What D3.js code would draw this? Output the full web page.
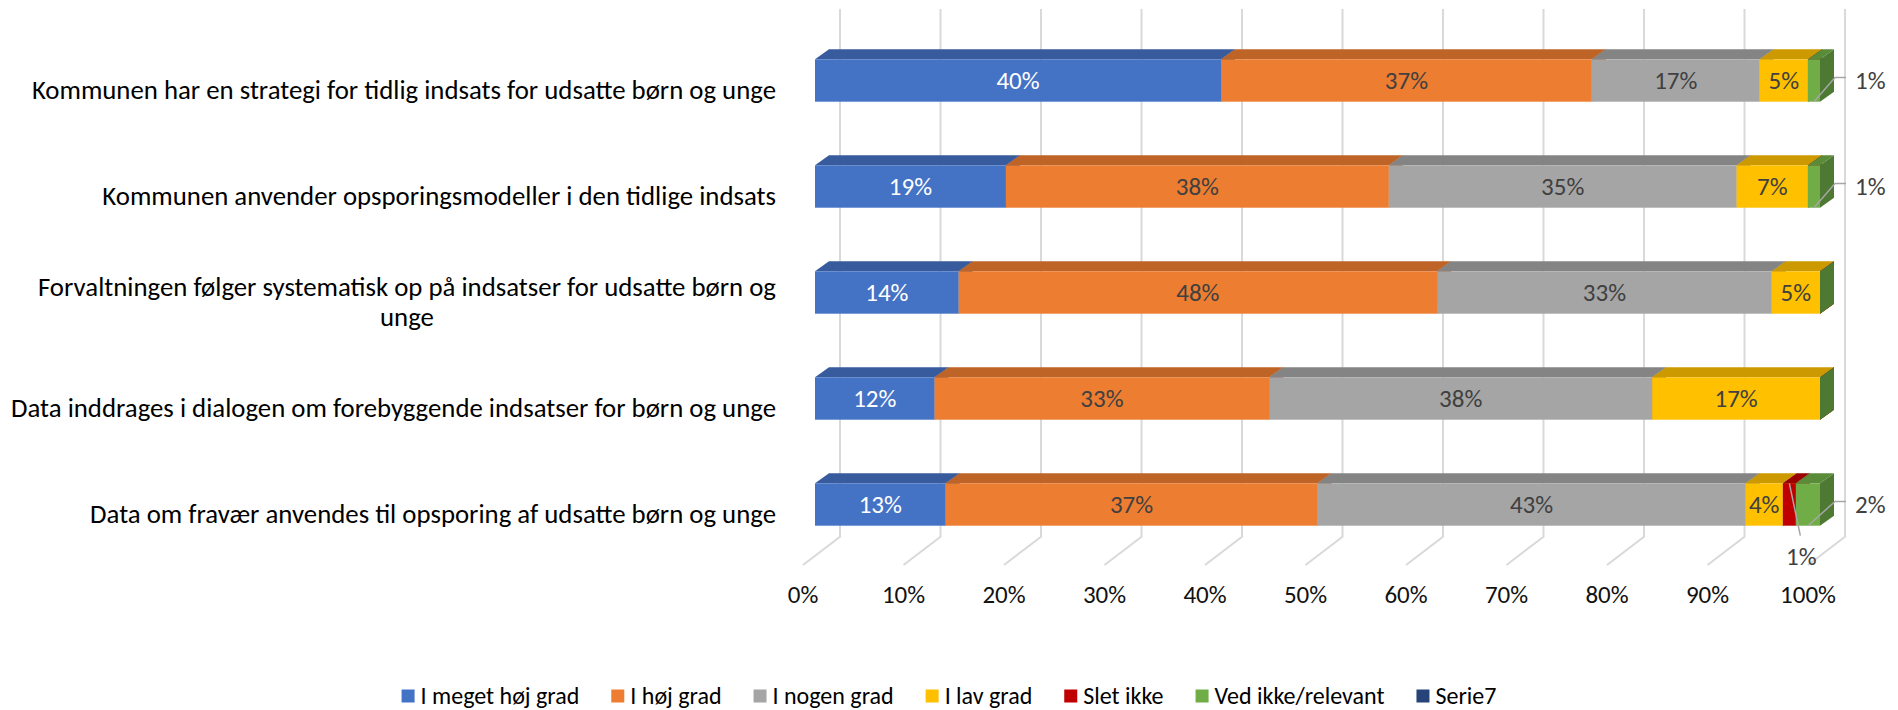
<!DOCTYPE html>
<html>
<head>
<meta charset="utf-8">
<script src="https://cdn.jsdelivr.net/npm/d3@7/dist/d3.min.js"></script>
<style>
  html, body { margin: 0; padding: 0; background: #fff; }
  svg { display: block; font-family: Carlito, Calibri, Lato, sans-serif; }
</style>
</head>
<body>
<svg id="chart" width="1898" height="710"></svg>
<script>
// ---------- data ----------
const categories = [
  "Kommunen har en strategi for tidlig indsats for udsatte børn og unge",
  "Kommunen anvender opsporingsmodeller i den tidlige indsats",
  "Forvaltningen følger systematisk op på indsatser for udsatte børn og\nunge",
  "Data inddrages i dialogen om forebyggende indsatser for børn og unge",
  "Data om fravær anvendes til opsporing af udsatte børn og unge"
];
const seriesNames = ["I meget høj grad", "I høj grad", "I nogen grad", "I lav grad", "Slet ikke", "Ved ikke/relevant", "Serie7"];
const seriesColors = ["#4472C4", "#ED7D31", "#A5A5A5", "#FFC000", "#C00000", "#70AD47", "#264478"];
const iMegetHoejGrad = [40.4, 19.0, 14.3, 11.9, 13.0];
const iHoejGrad      = [36.9, 38.1, 47.6, 33.3, 37.0];
const iNogenGrad     = [16.7, 34.6, 33.3, 38.1, 42.6];
const iLavGrad       = [4.8, 7.1, 4.8, 16.7, 3.7];
const sletIkke       = [0, 0, 0, 0, 1.3];
const vedIkke        = [1.2, 1.2, 0, 0, 2.4];
const serie7         = [null, null, null, null, null];
const xTicks = [0, 10, 20, 30, 40, 50, 60, 70, 80, 90, 100];

const seriesValues = [iMegetHoejGrad, iHoejGrad, iNogenGrad, iLavGrad, sletIkke, vedIkke, serie7];

// ---------- layout ----------
const svg = d3.select("#chart");
const FONT_CAT = 26.8, FONT_TICK = 25, FONT_LAB = 25, FONT_LEG = 24;
const x = d3.scaleLinear().domain([0, 100]).range([815, 1820]);   // bar front plane
const y = d3.scaleBand().domain(categories).range([27.5, 557.5]).paddingInner(0.6).paddingOuter(0.3);
const barDx = 14, barDy = 10;          // bar depth
const floorFrontDx = -12, backDx = 25; // floor front / back wall relative to bar front
const wallTop = 9, wallBottom = 536.7, floorFront = 565;
const labelShift = 9;                  // category labels sit on front floor plane

// back wall gridlines + floor lines
const grid = svg.append("g").attr("stroke", "#d9d9d9").attr("stroke-width", 2).attr("fill", "none");
xTicks.forEach(t => {
  const xb = x(t) + backDx, xf = x(t) + floorFrontDx;
  grid.append("path").attr("d", `M${xb},${wallTop}L${xb},${wallBottom}L${xf},${floorFront}`);
});

// tick labels
svg.append("g").selectAll("text").data(xTicks).join("text")
  .attr("x", d => x(d) + floorFrontDx)
  .attr("y", 603)
  .attr("text-anchor", "middle")
  .attr("font-size", FONT_TICK)
  .attr("fill", "#111")
  .text(d => d + "%");

// category labels
const catG = svg.append("g");
categories.forEach(c => {
  const lines = c.split("\n");
  const cy = y(c) + y.bandwidth() / 2 + labelShift;
  const lh = 30;
  const t = catG.append("text").attr("font-size", FONT_CAT).attr("fill", "#000");
  lines.forEach((ln, i) => {
    t.append("tspan").attr("x", 0).attr("y", cy + (i - (lines.length - 1) / 2) * lh).attr("dy", "0.35em").text(ln);
  });
  const widths = [];
  t.selectAll("tspan").each(function() { widths.push(this.getComputedTextLength()); });
  const maxW = d3.max(widths);
  const right = 776;
  t.selectAll("tspan").attr("text-anchor", "middle").attr("x", right - maxW / 2);
});

// bars
const barsG = svg.append("g");
const labelsG = svg.append("g");
categories.forEach((c, ci) => {
  const top = y(c), bot = y(c) + y.bandwidth(), cy = (top + bot) / 2;
  let cum = 0;
  let lastNZ = -1;
  seriesValues.forEach((vals, si) => { if (vals[ci] != null && vals[ci] > 0) lastNZ = si; });
  seriesValues.forEach((vals, si) => {
    const v = vals[ci];
    if (v == null) return;
    const x0 = x(cum), x1 = x(cum + v);
    cum += v;
    const col = d3.color(seriesColors[si]);
    const topCol = col.darker(0.62).formatHex();
    const sideCol = col.darker(1.0).formatHex();
    barsG.append("path").attr("fill", sideCol)
      .attr("d", `M${x1},${top}L${x1 + barDx},${top - barDy}L${x1 + barDx},${bot - barDy}L${x1},${bot}Z`);
    barsG.append("path").attr("fill", topCol)
      .attr("d", `M${x0},${top}L${x1},${top}L${x1 + barDx},${top - barDy}L${x0 + barDx},${top - barDy}Z`);
    barsG.append("rect").attr("fill", col.formatHex())
      .attr("x", x0).attr("y", top).attr("width", Math.max(0, x1 - x0)).attr("height", bot - top);
    if (v <= 0) return;
    const txt = Math.round(v) + "%";
    const labCol = si === 0 ? "#ffffff" : "#404040";
    const mx = (x0 + x1) / 2;
    if (v >= 3) {
      labelsG.append("text").attr("x", mx).attr("y", cy).attr("dy", "0.35em")
        .attr("text-anchor", "middle").attr("font-size", FONT_LAB).attr("fill", labCol).text(txt);
    } else if (si === lastNZ) {
      const ly = cy - 3;
      const ax = x(100) + barDx + 1;
      labelsG.append("path").attr("fill", "none").attr("stroke", "#a6a6a6").attr("stroke-width", 1.5)
        .attr("d", `M${mx},${bot}L${ax},${ly}L${ax + 11},${ly}`);
      labelsG.append("text").attr("x", ax + 20).attr("y", cy).attr("dy", "0.35em")
        .attr("font-size", FONT_LAB).attr("fill", "#404040").text(txt);
    } else {
      labelsG.append("path").attr("fill", "none").attr("stroke", "#a6a6a6").attr("stroke-width", 1.5)
        .attr("d", `M${mx},${top}L${mx + 11},${bot + 10}`);
      labelsG.append("text").attr("x", mx + 12).attr("y", bot + 31).attr("dy", "0.35em")
        .attr("text-anchor", "middle").attr("font-size", FONT_LAB).attr("fill", "#404040").text(txt);
    }
  });
});

// legend
const legG = svg.append("g");
const legY = 696, sq = 13, gapSq = 6, gapItem = 32;
const items = seriesNames.map((n, i) => {
  const g = legG.append("g");
  g.append("rect").attr("width", sq).attr("height", sq).attr("y", legY - sq / 2).attr("fill", seriesColors[i]);
  const t = g.append("text").attr("x", sq + gapSq).attr("y", legY).attr("dy", "0.35em")
    .attr("font-size", FONT_LEG).attr("fill", "#000").text(n);
  return { g, w: sq + gapSq + t.node().getComputedTextLength() };
});
const totalW = d3.sum(items, d => d.w) + gapItem * (items.length - 1);
let lx = 949 - totalW / 2;
items.forEach(it => { it.g.attr("transform", `translate(${lx},0)`); lx += it.w + gapItem; });
</script>
</body>
</html>
